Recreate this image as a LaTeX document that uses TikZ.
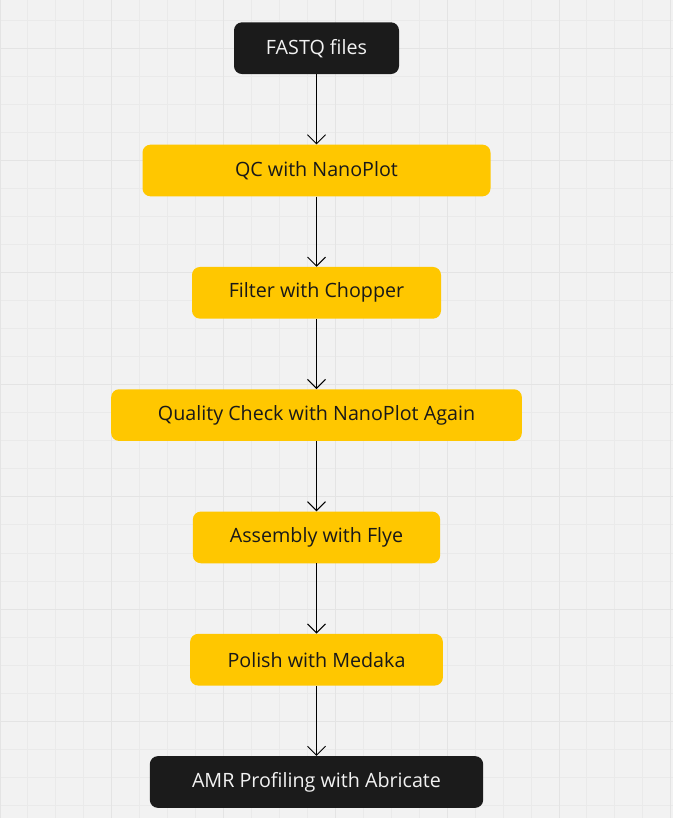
\documentclass[tikz,border=0pt]{standalone}
\usepackage{fontspec}
\setmainfont{Open Sans}
\usetikzlibrary{positioning,arrows.meta}
\definecolor{boardgray}{HTML}{F2F2F2}
\definecolor{minorgrid}{HTML}{EAEAEA}
\definecolor{majorgrid}{HTML}{E4E4E4}
\definecolor{stepyellow}{HTML}{FFC700}
\definecolor{iodark}{HTML}{1B1B1B}
\tikzset{
    stepbox/.style={fill=stepyellow, rounded corners=8pt, minimum height=51.7pt, inner sep=0pt, text=black!90, font=\fontsize{19.7}{22}\selectfont},
    iobox/.style={stepbox, fill=iodark, text=boardgray},
    flow/.style={-{Straight Barb[length=9pt,width=18pt]}, line width=1pt, black}
}
\begin{document}
\begin{tikzpicture}[x=1pt,y=-1pt,node distance=70.2pt]
    % Board %
    \fill[boardgray] (0,0) rectangle (673,818);
    \useasboundingbox (0,0) rectangle (673,818);
    \begin{scope}
        \clip (0,0) rectangle (673,818);
        \foreach \i in {0,...,24}
            \draw[minorgrid, line width=1pt] (\i*27.95,0) -- (\i*27.95,818);
        \foreach \i in {0,...,30}
            \draw[minorgrid, line width=1pt] (0,\i*28.03-7.6) -- (673,\i*28.03-7.6);
        \foreach \i in {0,...,6} {
            \draw[majorgrid, line width=1pt] (\i*111.8,0) -- (\i*111.8,818);
            \draw[majorgrid, line width=1pt] (0,\i*112.1+48.5) -- (673,\i*112.1+48.5);
        }
    \end{scope}

    % Steps %
    \node[iobox, minimum width=165pt] (fastq) at (316.5,48.2) {FASTQ files};
    \node[stepbox, minimum width=348pt, below=of fastq] (nanoplot) {QC with NanoPlot};
    \node[stepbox, minimum width=249pt, below=of nanoplot] (chopper) {Filter with Chopper};
    \node[stepbox, minimum width=410.7pt, below=of chopper] (recheck) {Quality Check with NanoPlot Again};
    \node[stepbox, minimum width=247.3pt, below=of recheck] (flye) {Assembly with Flye};
    \node[stepbox, minimum width=252.7pt, below=of flye] (medaka) {Polish with Medaka};
    \node[iobox, minimum width=333.3pt, below=of medaka] (abricate) {AMR Profiling with Abricate};

    % Arrows %
    \draw[flow] (fastq.south) -- (nanoplot.north);
    \draw[flow] (nanoplot.south) -- (chopper.north);
    \draw[flow] (chopper.south) -- (recheck.north);
    \draw[flow] (recheck.south) -- (flye.north);
    \draw[flow] (flye.south) -- (medaka.north);
    \draw[flow] (medaka.south) -- (abricate.north);
\end{tikzpicture}
\end{document}
